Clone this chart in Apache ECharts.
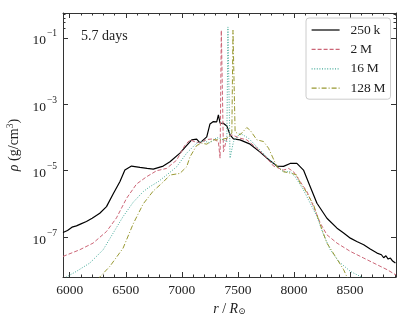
<!DOCTYPE html>
<html>
<head>
<meta charset="utf-8">
<script src="https://cdn.jsdelivr.net/npm/echarts@6/dist/echarts.min.js"></script>
<style>
html,body{margin:0;padding:0;background:#fff;}
#main{width:407px;height:326px;}
</style>
</head>
<body>
<div id="main"></div>
<script>
// radius r/Rsun and log10(rho), one pair of arrays per run
var r250k = [5940,5980,6020,6060,6100,6149,6200,6268,6328,6387,6447,6492,6551,6626,6690,6745,6834,6894,6983,7040,7088,7132,7162,7222,7251,7281,7311,7326,7341,7370,7401,7430,7460,7519,7609,7698,7758,7848,7907,7966,8026,8085,8145,8205,8294,8384,8440,8503,8560,8622,8680,8741,8780,8800,8820,8840,8860,8880,8905];
var rho250k = [-6.86,-6.80,-6.70,-6.66,-6.60,-6.53,-6.43,-6.28,-6.08,-5.70,-5.33,-4.98,-4.86,-4.90,-4.93,-4.95,-4.86,-4.73,-4.47,-4.25,-4.07,-4.05,-4.16,-3.98,-3.59,-3.52,-3.53,-3.32,-3.57,-3.57,-3.65,-3.92,-4.04,-4.07,-4.20,-4.44,-4.62,-4.86,-4.87,-4.78,-4.78,-4.98,-5.48,-5.98,-6.43,-6.73,-6.87,-7.03,-7.13,-7.23,-7.36,-7.48,-7.53,-7.62,-7.56,-7.66,-7.63,-7.72,-7.78];

var r2M = [5940,6089,6208,6328,6417,6507,6596,6686,6775,6864,6954,7028,7073,7117,7162,7222,7281,7326,7341,7352,7361,7371,7401,7446,7519,7579,7669,7758,7818,7907,7952,7996,8056,8116,8175,8235,8294,8384,8503,8622,8741,8831,8910];
var rho2M = [-7.58,-7.38,-7.18,-6.83,-6.42,-5.83,-5.40,-5.18,-5.00,-4.93,-4.68,-4.23,-4.07,-4.13,-4.16,-4.06,-4.04,-4.13,-4.62,-0.77,-0.77,-4.43,-4.02,-3.92,-4.02,-4.07,-4.32,-4.62,-4.86,-4.98,-4.93,-5.03,-5.33,-5.63,-6.08,-6.58,-6.93,-7.18,-7.43,-7.63,-7.83,-7.98,-8.14];

var r16M = [5950,5970,6060,6179,6298,6387,6476,6566,6655,6715,6789,6864,6954,7043,7132,7192,7251,7311,7370,7401,7411,7419,7430,7460,7519,7594,7669,7743,7817,7907,7966,8011,8085,8145,8205,8264,8324,8398,8503,8601,8625];
var rho16M = [-8.26,-8.20,-8.03,-7.78,-7.38,-6.88,-6.38,-5.95,-5.63,-5.48,-5.33,-5.13,-4.88,-4.47,-4.17,-4.10,-4.16,-4.00,-4.07,-4.13,-0.67,-0.67,-4.62,-4.13,-3.87,-4.02,-4.28,-4.53,-4.78,-5.03,-5.03,-5.18,-5.58,-5.98,-6.38,-6.93,-7.38,-7.73,-8.03,-8.20,-8.28];

var r128M = [6250,6268,6358,6476,6566,6655,6745,6834,6894,6983,7043,7073,7132,7177,7222,7281,7341,7401,7446,7456,7465,7475,7519,7579,7609,7669,7728,7773,7848,7907,7981,8026,8056,8100,8175,8235,8294,8369,8443,8473,8490];
var rho128M = [-8.28,-8.20,-7.88,-7.33,-6.60,-6.00,-5.61,-5.34,-5.13,-5.08,-4.88,-4.58,-4.24,-4.17,-4.20,-4.07,-4.07,-4.02,-3.87,-0.77,-0.77,-3.83,-3.92,-3.70,-3.78,-4.07,-4.12,-4.32,-4.88,-5.03,-5.08,-5.13,-5.38,-5.58,-6.03,-6.63,-7.18,-7.58,-7.98,-8.20,-8.28];

var xMajor = [6000,6500,7000,7500,8000,8500];
var yMajor = [-7,-5,-3,-1];
var yMinor = [Math.log10(0.2),Math.log10(0.3),Math.log10(0.4),Math.log10(0.5)];
var xMinor = [];
for (var v = 6000; v <= 8900; v += 100) xMinor.push(v);

var FONT = "'Liberation Serif','DejaVu Serif',serif";
var AX = '#333';

function pairs(xs, ys){
	var out = [];
	for (var i = 0; i < xs.length; i++) out.push([xs[i], ys[i]]);
	return out;
}

function xAx(pos, ticks, len, labels, line){
	return {
		type: 'value', position: pos, min: 5940, max: 8910,
		splitLine: {show: false},
		axisLine: {show: line, onZero: false, lineStyle: {color: AX, width: 1}},
		axisTick: {show: true, inside: true, length: len, customValues: ticks, lineStyle: {color: AX, width: 1}},
		axisLabel: labels ? {show: true, customValues: xMajor, margin: 6, color: '#222', fontFamily: FONT, fontSize: 13.5,
			formatter: function(val){ return String(val); }} : {show: false}
	};
}
function yAx(pos, ticks, len, labels, line){
	return {
		type: 'value', position: pos, min: -8.2, max: -0.25,
		splitLine: {show: false},
		axisLine: {show: line, onZero: false, lineStyle: {color: AX, width: 1}},
		axisTick: {show: true, inside: true, length: len, customValues: ticks, lineStyle: {color: AX, width: 1}},
		axisLabel: labels ? {
			show: true, customValues: yMajor, margin: 6, color: '#222', fontFamily: FONT, fontSize: 13.5,
			formatter: function(val){ return '{b|10}{s|\u2212' + Math.round(-val) + '}'; },
			rich: {
				b: {fontFamily: FONT, fontSize: 13.5, color: '#222', lineHeight: 20, verticalAlign: 'bottom'},
				s: {fontFamily: FONT, fontSize: 9.5, color: '#222', lineHeight: 20, verticalAlign: 'top', padding: [1,0,0,1]}
			}
		} : {show: false}
	};
}

var myChart = echarts.init(document.getElementById('main'), null, {renderer: 'canvas'});

var xAxes = [xAx('bottom', xMajor, 5, true, true), xAx('bottom', xMinor, 2.5, false, false),
	xAx('top', xMajor, 5, false, true), xAx('top', xMinor, 2.5, false, false)];
xAxes[0].name = '{i|r} / {i|R}{sub|\u2299}';
xAxes[0].nameLocation = 'middle';
xAxes[0].nameGap = 22;
xAxes[0].nameTextStyle = {
	fontFamily: FONT, fontSize: 14, color: '#222',
	rich: {
		i: {fontFamily: FONT, fontSize: 14, fontStyle: 'italic', color: '#222'},
		sub: {fontFamily: FONT, fontSize: 9, color: '#222', padding: [6,0,0,0]}
	}
};

var yAxes = [yAx('left', yMajor, 5, true, true), yAx('left', yMinor, 2.5, false, false),
	yAx('right', yMajor, 5, false, true), yAx('right', yMinor, 2.5, false, false)];
yAxes[0].name = '{i|\u03c1} (g/cm{s|3})';
yAxes[0].nameLocation = 'middle';
yAxes[0].nameGap = 40;
yAxes[0].nameTextStyle = {
	fontFamily: FONT, fontSize: 14, color: '#222',
	rich: {
		i: {fontFamily: FONT, fontSize: 14, fontStyle: 'italic', color: '#222'},
		s: {fontFamily: FONT, fontSize: 9.5, color: '#222', padding: [0,0,7,0]}
	}
};

var option = {
	animation: false,
	backgroundColor: '#fff',
	title: {
		text: '5.7 days', left: 81, top: 29, padding: 0,
		textStyle: {fontFamily: FONT, fontSize: 14, fontWeight: 'normal', color: '#222'}
	},
	legend: {
		orient: 'vertical', left: 306, top: 18,
		padding: [5,5,4,5], itemGap: 5.4, itemWidth: 28, itemHeight: 14,
		borderColor: '#cccccc', borderWidth: 1, borderRadius: 3, backgroundColor: '#fff',
		itemStyle: {opacity: 0},
		lineStyle: {width: 1.2},
		textStyle: {fontFamily: FONT, fontSize: 13.5, color: '#222', padding: [0,0,0,6]},
		data: ['250\u2009k', '2\u2009M', '16\u2009M', '128\u2009M']
	},
	grid: {left: 63, right: 11, top: 13, bottom: 49, containLabel: false, outerBoundsMode: 'none'},
	xAxis: xAxes,
	yAxis: yAxes,
	series: [
		{name: '250\u2009k', type: 'line', data: pairs(r250k, rho250k), showSymbol: false, symbol: 'none', color: '#000',
			lineStyle: {color: '#000', width: 1.2}},
		{name: '2\u2009M', type: 'line', data: pairs(r2M, rho2M), showSymbol: false, symbol: 'none', color: '#CC6677',
			lineStyle: {color: '#CC6677', width: 1, type: [4,2]}},
		{name: '16\u2009M', type: 'line', data: pairs(r16M, rho16M), showSymbol: false, symbol: 'none', color: '#44AA99',
			lineStyle: {color: '#44AA99', width: 1, type: [1,1.6]}},
		{name: '128\u2009M', type: 'line', data: pairs(r128M, rho128M), showSymbol: false, symbol: 'none', color: '#999933',
			lineStyle: {color: '#999933', width: 1, type: [5,2,1,2]}}
	]
};
myChart.setOption(option, true);
</script>
</body>
</html>
